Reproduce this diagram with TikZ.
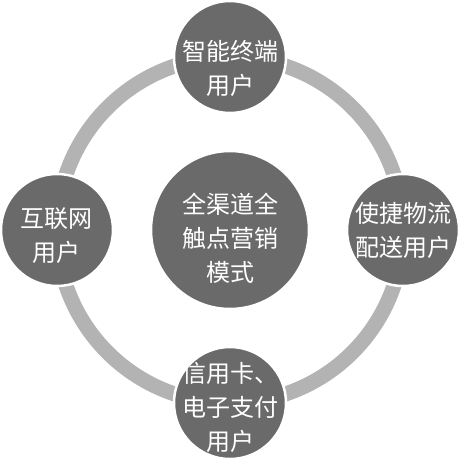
\documentclass[tikz,border=0pt]{standalone}
\usepackage{fontspec}
\newfontfamily\cjk{Noto Sans CJK SC}
\usetikzlibrary{positioning,backgrounds}
\definecolor{discgray}{HTML}{6A6A6A}
\definecolor{ringgray}{HTML}{B3B3B3}

\begin{document}
\begin{tikzpicture}[x=1pt, y=1pt,
            disc/.style={draw=white, circle, fill=discgray, line width=2.5pt,
                   inner sep=0, minimum size=112pt},
            words/.style={text=white, align=center, inner sep=0,
                   font=\cjk\fontsize{24}{34}\selectfont},
            node distance=173pt]
        \useasboundingbox (-230,-230) rectangle (232,230);
        \node (mode) [disc, minimum size=158pt,
            label={[words, yshift=-8pt]center:{全渠道全\\触点营销\\模式}}] at (0,0) {};
        \node (smart) [disc, above of=mode,
            label={[words, yshift=-11pt]center:{智能终端\\用户}}] {};
        \node (web) [disc, left of=mode,
            label={[words, yshift=-6pt]center:{互联网\\用户}}] {};
        \node (post) [disc, right of=mode,
            label={[words]center:{使捷物流\\配送用户}}] {};
        \node (pay) [disc, below of=mode,
            label={[words, yshift=-4pt]center:{信用卡、\\电子支付\\用户}}] {};

        \begin{pgfonlayer}{background}
        \draw [ringgray, line width=15pt] (smart.center) to[bend right=45] (web.center)
            to[bend right=45] (pay.center) to[bend right=45] (post.center)
            to[bend right=45] (smart.center);
        \end{pgfonlayer}
    \end{tikzpicture}
\end{document}
